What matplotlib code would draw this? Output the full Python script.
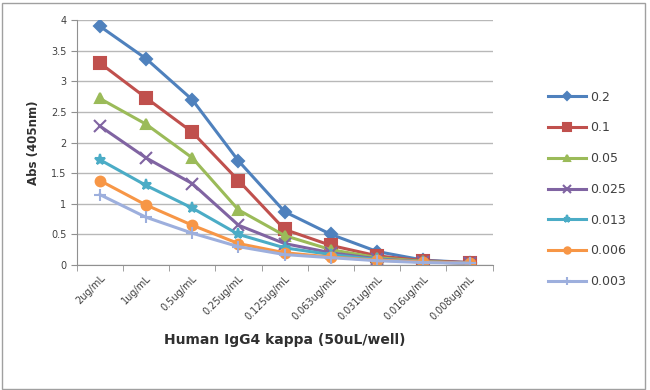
import matplotlib
matplotlib.use("Agg")
import matplotlib.pyplot as plt
from matplotlib.patches import Rectangle
import numpy as np

# x categories (antigen dilution)
categories = ['2ug/mL', '1ug/mL', '0.5ug/mL', '0.25ug/mL', '0.125ug/mL',
              '0.063ug/mL', '0.031ug/mL', '0.016ug/mL', '0.008ug/mL']

# series: antibody concentration -> absorbance
labels = ['0.2', '0.1', '0.05', '0.025', '0.013', '0.006', '0.003']
s_02 = [3.90, 3.37, 2.70, 1.70, 0.87, 0.50, 0.22, 0.08, 0.04]
s_01 = [3.30, 2.73, 2.17, 1.38, 0.58, 0.32, 0.15, 0.07, 0.04]
s_005 = [2.72, 2.30, 1.75, 0.90, 0.48, 0.25, 0.12, 0.06, 0.03]
s_0025 = [2.27, 1.75, 1.33, 0.65, 0.35, 0.20, 0.10, 0.05, 0.03]
s_0013 = [1.72, 1.30, 0.93, 0.50, 0.28, 0.17, 0.09, 0.05, 0.03]
s_0006 = [1.38, 0.98, 0.65, 0.35, 0.20, 0.13, 0.08, 0.05, 0.03]
s_0003 = [1.15, 0.78, 0.52, 0.30, 0.17, 0.12, 0.07, 0.04, 0.03]
series = [s_02, s_01, s_005, s_0025, s_0013, s_0006, s_0003]

colors = ['#4F81BD', '#C0504D', '#9BBB59', '#8064A2', '#4BACC6', '#F79646', '#9DAFDD']
markers = ['D', 's', '^', 'x', '*', 'o', '+']
msizes = [6, 8, 7, 8, 8, 7, 8]

fig = plt.figure(figsize=(6.5, 3.9), dpi=100)
ax = fig.add_axes([0.118, 0.3205, 0.640, 0.628])

x = np.arange(len(categories))
for vals, lab, c, m, ms in zip(series, labels, colors, markers, msizes):
    ax.plot(x, vals, color=c, lw=2.2, marker=m, ms=ms, mew=1.5,
            mec=c, mfc=c, label=lab)

ax.set_xlim(-0.5, len(categories) - 0.5)
ax.set_ylim(0, 4)
ax.set_yticks(np.arange(0, 4.01, 0.5))
ax.set_yticklabels(['0', '0.5', '1', '1.5', '2', '2.5', '3', '3.5', '4'])
ax.yaxis.grid(True, color='#b8b8b8', lw=1)
ax.set_axisbelow(True)

ax.set_xticks(x)
ax.set_xticklabels(categories, rotation=45, ha='right', rotation_mode='anchor')
ax.set_xticks(np.arange(-0.5, len(categories)), minor=True)
ax.tick_params(axis='x', which='major', length=0, labelsize=7, colors='#404040', pad=6)
ax.tick_params(axis='x', which='minor', length=4, color='#909090')
ax.tick_params(axis='y', length=4, color='#909090', labelsize=7, labelcolor='#404040')

for side in ['top', 'right']:
    ax.spines[side].set_visible(False)
for side in ['left', 'bottom']:
    ax.spines[side].set_color('#909090')

ax.set_ylabel('Abs (405nm)', fontsize=8.5, fontweight='bold', color='#303030', labelpad=8)
ax.set_xlabel('Human IgG4 kappa (50uL/well)', fontsize=10, fontweight='bold',
              color='#303030', labelpad=8)

leg = ax.legend(loc='upper left', bbox_to_anchor=(1.122, 0.732), frameon=False,
                fontsize=9, labelspacing=1.42, handlelength=3.0, handletextpad=0.3,
                markerscale=0.65, borderaxespad=0)
for t in leg.get_texts():
    t.set_color('#404040')

# outer chart border
fig.patches.append(Rectangle((0.003, 0.003), 0.99, 0.99, transform=fig.transFigure,
                             fill=False, ec='#a0a0a0', lw=1))

fig.savefig('out.png', dpi=100)
